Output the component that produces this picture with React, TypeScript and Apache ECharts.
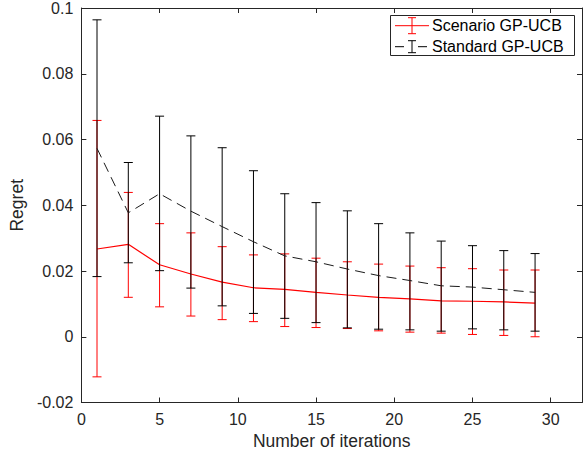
import React, { useEffect, useRef } from "react";
import * as echarts from "echarts";

const iterations = [1, 3, 5, 7, 9, 11, 13, 15, 17, 19, 21, 23, 25, 27, 29];

const scenarioMean = [0.0267, 0.0281, 0.0219, 0.0191, 0.0166, 0.0149, 0.0144, 0.0135, 0.0127, 0.012, 0.0115, 0.0109, 0.0108, 0.0106, 0.0102];
const scenarioUpper = [0.0658, 0.0439, 0.0344, 0.0316, 0.0274, 0.0249, 0.0252, 0.0239, 0.0228, 0.0221, 0.0215, 0.021, 0.0207, 0.0203, 0.0203];
const scenarioLower = [-0.0122, 0.012, 0.0091, 0.0063, 0.0052, 0.0046, 0.0031, 0.0028, 0.0025, 0.0018, 0.0014, 0.0011, 0.0007, 0.0004, 0.0];

const standardMean = [0.0573, 0.0377, 0.0435, 0.0382, 0.0335, 0.0289, 0.0246, 0.0228, 0.0206, 0.0186, 0.0171, 0.0155, 0.0151, 0.0143, 0.0135];
const standardUpper = [0.0964, 0.053, 0.0671, 0.0611, 0.0575, 0.0505, 0.0435, 0.0408, 0.0383, 0.0344, 0.0316, 0.0291, 0.0277, 0.0262, 0.0253];
const standardLower = [0.0183, 0.0225, 0.0201, 0.0148, 0.0094, 0.0071, 0.0056, 0.0043, 0.0027, 0.0023, 0.0021, 0.0017, 0.0024, 0.0021, 0.0017];

const seriesNames = ["Scenario GP-UCB", "Standard GP-UCB"];
const xTitle = "Number of iterations";
const yTitle = "Regret";

const FONT = "'Liberation Sans', Arial, Helvetica, sans-serif";
const AXIS = "#262626";
const RED = "#ff0000";
const BLACK = "#000000";

function errorBar(color: string) {
  return (params: any, api: any) => {
    const x = api.value(0);
    const lo = api.coord([x, api.value(1)]);
    const hi = api.coord([x, api.value(2)]);
    const hw = 4.5;
    const st = { stroke: color, lineWidth: 1 };
    return {
      type: "group",
      children: [
        { type: "line", shape: { x1: hi[0], y1: hi[1], x2: lo[0], y2: lo[1] }, style: st },
        { type: "line", shape: { x1: hi[0] - hw, y1: hi[1], x2: hi[0] + hw, y2: hi[1] }, style: st },
        { type: "line", shape: { x1: lo[0] - hw, y1: lo[1], x2: lo[0] + hw, y2: lo[1] }, style: st },
      ],
    };
  };
}

export default function App() {
  const ref = useRef<HTMLDivElement>(null);
  useEffect(() => {
    if (!ref.current) return;
    const chart = echarts.init(ref.current, undefined, { renderer: "svg" });
    const yFmt = (v: number) => String(parseFloat(v.toFixed(3)));
    const baseX = {
      type: "value",
      min: 0,
      max: 32,
      interval: 5,
      splitLine: { show: false },
      axisLine: { show: true, onZero: false, lineStyle: { color: AXIS, width: 1 } },
      axisTick: { show: true, inside: true, length: 5, lineStyle: { color: AXIS } },
    };
    const baseY = {
      type: "value",
      min: -0.02,
      max: 0.1,
      interval: 0.02,
      splitLine: { show: false },
      axisLine: { show: true, onZero: false, lineStyle: { color: AXIS, width: 1 } },
      axisTick: { show: true, inside: true, length: 5, lineStyle: { color: AXIS } },
    };
    const legendX = 390.5;
    const legendY = 15.5;
    const row1 = 25.7;
    const row2 = 46.7;
    const iconC = 412;
    chart.setOption({
      animation: false,
      backgroundColor: "#ffffff",
      textStyle: { fontFamily: FONT },
      grid: { left: 78, right: 1, top: 4, bottom: 54.5, containLabel: false },
      xAxis: [
        {
          ...baseX,
          position: "bottom",
          name: xTitle,
          nameLocation: "middle",
          nameGap: 29,
          nameTextStyle: { fontSize: 17.5, color: AXIS, fontFamily: FONT },
          axisLabel: {
            show: true,
            fontSize: 16,
            color: AXIS,
            fontFamily: FONT,
            margin: 9,
            showMaxLabel: false,
            formatter: (v: number) => (Math.abs(v % 5) < 1e-9 ? String(v) : ""),
          },
        },
        { ...baseX, position: "top", axisLabel: { show: false } },
      ],
      yAxis: [
        {
          ...baseY,
          position: "left",
          name: yTitle,
          nameLocation: "middle",
          nameGap: 48,
          nameTextStyle: { fontSize: 17.5, color: AXIS, fontFamily: FONT },
          axisLabel: { show: true, fontSize: 16, color: AXIS, fontFamily: FONT, margin: 8, formatter: yFmt },
        },
        { ...baseY, position: "right", axisLabel: { show: false } },
      ],
      series: [
        {
          name: seriesNames[0],
          type: "line",
          data: iterations.map((x, i) => [x, scenarioMean[i]]),
          showSymbol: false,
          symbol: "none",
          lineStyle: { color: RED, width: 1.2 },
          z: 2,
        },
        {
          name: seriesNames[0] + " error",
          type: "custom",
          renderItem: errorBar(RED),
          data: iterations.map((x, i) => [x, scenarioLower[i], scenarioUpper[i]]),
          encode: { x: 0, y: [1, 2] },
          z: 3,
        },
        {
          name: seriesNames[1] + " error",
          type: "custom",
          renderItem: errorBar(BLACK),
          data: iterations.map((x, i) => [x, standardLower[i], standardUpper[i]]),
          encode: { x: 0, y: [1, 2] },
          z: 4,
        },
        {
          name: seriesNames[1],
          type: "line",
          data: iterations.map((x, i) => [x, standardMean[i]]),
          showSymbol: false,
          symbol: "none",
          lineStyle: { color: "#1a1a1a", width: 1, type: [10, 6] },
          z: 5,
        },
      ],
      graphic: [
        {
          type: "group",
          z: 100,
          children: [
            {
              type: "rect",
              shape: { x: legendX, y: legendY, width: 184, height: 40 },
              style: { fill: "#ffffff", stroke: AXIS, lineWidth: 1 },
            },
            { type: "line", shape: { x1: 395, y1: row1, x2: 429, y2: row1 }, style: { stroke: RED, lineWidth: 1 } },
            { type: "line", shape: { x1: iconC, y1: row1 - 8, x2: iconC, y2: row1 + 8 }, style: { stroke: RED, lineWidth: 1 } },
            { type: "line", shape: { x1: iconC - 4, y1: row1 - 8, x2: iconC + 4, y2: row1 - 8 }, style: { stroke: RED, lineWidth: 1 } },
            { type: "line", shape: { x1: iconC - 4, y1: row1 + 8, x2: iconC + 4, y2: row1 + 8 }, style: { stroke: RED, lineWidth: 1 } },
            {
              type: "text",
              x: 432,
              y: row1,
              style: { text: seriesNames[0], fontSize: 16, fontFamily: FONT, fill: "#000", verticalAlign: "middle", align: "left" },
            },
            { type: "line", shape: { x1: 395, y1: row2, x2: 404, y2: row2 }, style: { stroke: BLACK, lineWidth: 1 } },
            { type: "line", shape: { x1: 418, y1: row2, x2: 427, y2: row2 }, style: { stroke: BLACK, lineWidth: 1 } },
            { type: "line", shape: { x1: iconC, y1: row2 - 6, x2: iconC, y2: row2 + 6 }, style: { stroke: BLACK, lineWidth: 1 } },
            { type: "line", shape: { x1: iconC - 4, y1: row2 - 6, x2: iconC + 4, y2: row2 - 6 }, style: { stroke: BLACK, lineWidth: 1 } },
            { type: "line", shape: { x1: iconC - 4, y1: row2 + 6, x2: iconC + 4, y2: row2 + 6 }, style: { stroke: BLACK, lineWidth: 1 } },
            {
              type: "text",
              x: 432,
              y: row2,
              style: { text: seriesNames[1], fontSize: 16, fontFamily: FONT, fill: "#000", verticalAlign: "middle", align: "left" },
            },
          ],
        },
      ],
    });
    return () => chart.dispose();
  }, []);
  return (
    <div
      ref={ref}
      style={{ position: "absolute", left: 0, top: 0, width: 583, height: 457, background: "#fff" }}
    />
  );
}
